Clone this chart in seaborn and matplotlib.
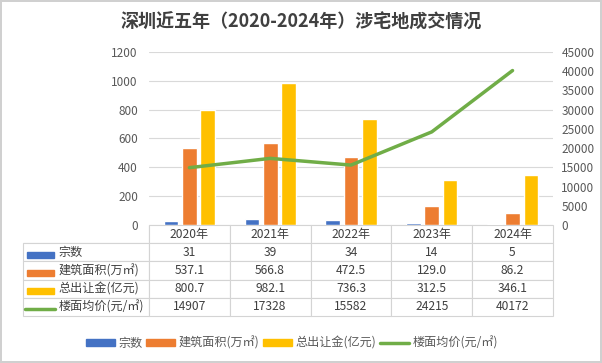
import numpy as np
import pandas as pd
import matplotlib
matplotlib.use("Agg")
import matplotlib.pyplot as plt
from matplotlib.patches import Patch
from matplotlib.lines import Line2D
import seaborn as sns

# data
years = ['2020年', '2021年', '2022年', '2023年', '2024年']
deals = [31, 39, 34, 14, 5]
area = [537.1, 566.8, 472.5, 129.0, 86.2]
money = [800.7, 982.1, 736.3, 312.5, 346.1]
price = [14907, 17328, 15582, 24215, 40172]
series_names = ['宗数', '建筑面积(万㎡)', '总出让金(亿元)', '楼面均价(元/㎡)']
colors = ['#4472C4', '#ED7D31', '#FFC000', '#70AD47']

sns.set_theme(style="white")
plt.rcParams['font.family'] = ['Noto Sans CJK SC', 'DejaVu Sans']
txt = '#595959'

df = pd.DataFrame({
    'year': years * 3,
    'value': deals + area + money,
    'series': [series_names[0]] * 5 + [series_names[1]] * 5 + [series_names[2]] * 5,
})

fig = plt.figure(figsize=(6.02, 3.63), dpi=100)
fig.patch.set_edgecolor('#d0d0d0')
fig.patch.set_linewidth(1.5)
ax = fig.add_axes([0.2475, 0.3802, 0.671, 0.4766])

sns.barplot(data=df, x='year', y='value', hue='series', palette=colors[:3],
            width=0.68, gap=0.2, saturation=1, ax=ax, legend=False)
ax.set_ylim(0, 1200)
ax.set_yticks(range(0, 1201, 200))
ax.yaxis.grid(True, color='#d9d9d9', lw=0.8)
ax.set_axisbelow(True)
ax.set_xlabel('')
ax.set_ylabel('')
ax.set_xticks([])
for s in ax.spines.values():
    s.set_visible(False)
ax.tick_params(axis='y', labelsize=8.5, colors=txt, length=0, pad=8)

ax2 = ax.twinx()
sns.lineplot(x=np.arange(len(years)), y=price, color=colors[3], lw=2.5, ax=ax2)
ax2.set_ylim(0, 45000)
ax2.set_yticks(range(0, 45001, 5000))
ax2.set_xlim(-0.5, 4.5)
ax.set_xlim(-0.5, 4.5)
for s in ax2.spines.values():
    s.set_visible(False)
ax2.tick_params(axis='y', labelsize=8.5, colors=txt, length=0, pad=6)
ax2.grid(False)

# data table under the chart
cell_text = [[''] + years]
rows = [deals, area, money, price]
fmts = ['{:d}', '{:.1f}', '{:.1f}', '{:d}']
for name, vals, f in zip(series_names, rows, fmts):
    cell_text.append([name] + [f.format(v) for v in vals])

tbl = ax.table(cellText=cell_text, cellLoc='center',
               colWidths=[126 / 404] + [1 / 5] * 5,
               bbox=[-0.312, -0.526, 1.312, 0.526])
tbl.auto_set_font_size(False)
for (r, c), cell in tbl.get_celld().items():
    cell.set_edgecolor('#d4d4d4')
    cell.set_linewidth(0.8)
    cell.get_text().set_color('#404040')
    cell.get_text().set_fontsize(8.7)
    if c == 0:
        cell._loc = 'left'
        cell.get_text().set_ha('left')
        cell.PAD = 0.28
    if r == 0 and c == 0:
        cell.visible_edges = 'BR'

# legend keys inside the table label column
for i, col in enumerate(colors):
    yc = 1 - (254.5 + 18 * i) / 363
    if i < 3:
        fig.patches.append(plt.Rectangle((27 / 602, yc - 3 / 363), 27 / 602, 6 / 363,
                                         color=col, transform=fig.transFigure))
    else:
        fig.lines.append(Line2D([25 / 602, 55 / 602], [yc, yc], color=col, lw=2.5,
                                transform=fig.transFigure))

handles = [Patch(color=colors[0]), Patch(color=colors[1]), Patch(color=colors[2]),
           Line2D([], [], color=colors[3], lw=2.5)]
fig.legend(handles, series_names, loc='center', bbox_to_anchor=(0.485, 0.055), ncol=4,
           frameon=False, fontsize=8.7, handlelength=2.4, handleheight=0.6,
           columnspacing=0.3, handletextpad=0.3, labelcolor=txt)

fig.text(0.5, 0.94, '深圳近五年（2020-2024年）涉宅地成交情况', ha='center', va='center',
         fontsize=13, fontweight='bold', color='#404040')

fig.savefig('out.png', dpi=100)
